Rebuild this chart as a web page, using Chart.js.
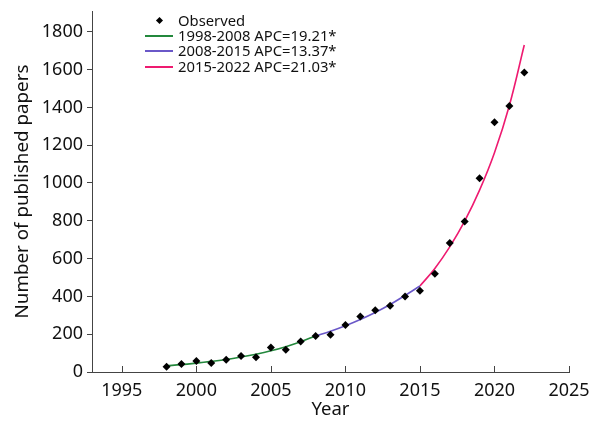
<!DOCTYPE html>
<html>
<head>
<meta charset="utf-8">
<script src="https://cdn.jsdelivr.net/npm/chart.js@4.4.1/dist/chart.umd.min.js"></script>
<style>
  html, body { margin: 0; padding: 0; background: #fff; }
  #wrap { position: relative; width: 589px; height: 421px; }
  #legend { position: absolute; left: 144px; top: 13px; font-family: "Noto Sans", sans-serif; font-size: 14.8px; color: #111; line-height: 15.2px; }
  .row { display: flex; align-items: center; height: 15.2px; white-space: nowrap; }
  .sym { width: 30px; height: 15px; position: relative; margin-right: 4px; }
  .ln { position: absolute; left: 1px; right: 1px; top: 7px; height: 2px; }
  .dm { position: absolute; left: 12.5px; top: 4.5px; width: 5px; height: 5px; background: #000; transform: rotate(45deg); }
</style>
</head>
<body>
<div id="wrap">
  <canvas id="c" width="589" height="421"></canvas>
  <div id="legend"></div>
</div>
<script>
// Observed data
const years = [1998,1999,2000,2001,2002,2003,2004,2005,2006,2007,2008,2009,2010,2011,2012,2013,2014,2015,2016,2017,2018,2019,2020,2021,2022];
const observed = [28,42,58,48,65,85,78,129,118,162,190,197,249,293,327,351,399,430,520,683,796,1025,1322,1408,1584];

// Fitted joinpoint segments
const seg1Years = [1998,1999,2000,2001,2002,2003,2004,2005,2006,2007,2008];
const seg1Values = [33,39,47,56,66,79,94,112,134,160,191];
const seg2Years = [2008,2009,2010,2011,2012,2013,2014,2015];
const seg2Values = [191,216,245,278,315,357,405,455];
const seg3Years = [2015,2016,2017,2018,2019,2020,2021,2022];
const seg3Values = [455,548,662,798,962,1160,1410,1730];

const legendLabels = ["Observed","1998-2008 APC=19.21*","2008-2015 APC=13.37*","2015-2022 APC=21.03*"];
const xTicks = [1995,2000,2005,2010,2015,2020,2025];
const yTicks = [0,200,400,600,800,1000,1200,1400,1600,1800];

const colors = { seg1: "#23883c", seg2: "#6a58c8", seg3: "#ee1a70" };
const FONT = "'Noto Sans', sans-serif";

const pts = (xs, ys) => xs.map((x, i) => ({ x: x, y: ys[i] }));

const inwardTicks = {
  id: 'inwardTicks',
  afterDraw(chart) {
    const ctx = chart.ctx, xs = chart.scales.x, y0 = chart.scales.y.bottom;
    ctx.save();
    ctx.strokeStyle = '#444';
    ctx.lineWidth = 1;
    xTicks.forEach(v => {
      const px = Math.round(xs.getPixelForValue(v)) + 0.5;
      ctx.beginPath();
      ctx.moveTo(px, y0);
      ctx.lineTo(px, y0 - 6);
      ctx.stroke();
    });
    ctx.restore();
  }
};

new Chart(document.getElementById('c'), {
  type: 'scatter',
  data: {
    datasets: [
      { label: legendLabels[0], data: pts(years, observed), showLine: false, pointStyle: 'rectRot', pointRadius: 4, pointBackgroundColor: '#000', pointBorderColor: '#000', pointBorderWidth: 0, order: 0 },
      { label: legendLabels[1], data: pts(seg1Years, seg1Values), showLine: true, borderColor: colors.seg1, borderWidth: 1.6, pointRadius: 0, tension: 0.4, order: 1 },
      { label: legendLabels[2], data: pts(seg2Years, seg2Values), showLine: true, borderColor: colors.seg2, borderWidth: 1.6, pointRadius: 0, tension: 0.4, order: 1 },
      { label: legendLabels[3], data: pts(seg3Years, seg3Values), showLine: true, borderColor: colors.seg3, borderWidth: 1.6, pointRadius: 0, tension: 0.4, order: 1 }
    ]
  },
  options: {
    responsive: false,
    animation: false,
    layout: { padding: { left: 11, right: 0, top: 11, bottom: 0 } },
    plugins: { legend: { display: false }, tooltip: { enabled: false } },
    scales: {
      x: {
        type: 'linear', min: 1993, max: 2025,
        afterBuildTicks: s => { s.ticks = xTicks.map(v => ({ value: v })); },
        grid: { display: false, drawTicks: false },
        border: { display: true, color: '#444', width: 1 },
        ticks: { font: { family: FONT, size: 18 }, color: '#111', padding: 8, maxRotation: 0, callback: v => String(v) },
        title: { display: true, text: 'Year', font: { family: FONT, size: 18.5 }, color: '#111', padding: { top: 0, bottom: 0 } },
        afterFit: s => { s.height = 49; s.paddingLeft = 0; s.paddingRight = 20; }
      },
      y: {
        type: 'linear', min: 0, max: 1910,
        afterBuildTicks: s => { s.ticks = yTicks.map(v => ({ value: v })); },
        grid: { display: true, drawOnChartArea: false, drawTicks: true, tickLength: 5, color: '#444' },
        border: { display: true, color: '#444', width: 1 },
        ticks: { font: { family: FONT, size: 18 }, color: '#111', padding: 4, callback: v => String(v) },
        title: { display: true, text: 'Number of published papers', font: { family: FONT, size: 18.8 }, color: '#111', padding: { top: 0, bottom: 0 } },
        afterFit: s => { s.width = 81; s.paddingTop = 0; s.paddingBottom = 0; }
      }
    }
  },
  plugins: [inwardTicks]
});

// HTML legend
const lg = document.getElementById('legend');
const legColors = [null, colors.seg1, colors.seg2, colors.seg3];
legendLabels.forEach((t, i) => {
  const row = document.createElement('div');
  row.className = 'row';
  const sym = document.createElement('span');
  sym.className = 'sym';
  const m = document.createElement('span');
  if (i === 0) { m.className = 'dm'; } else { m.className = 'ln'; m.style.backgroundColor = legColors[i]; }
  sym.appendChild(m);
  const tx = document.createElement('span');
  tx.textContent = t;
  row.appendChild(sym);
  row.appendChild(tx);
  lg.appendChild(row);
});
</script>
</body>
</html>
